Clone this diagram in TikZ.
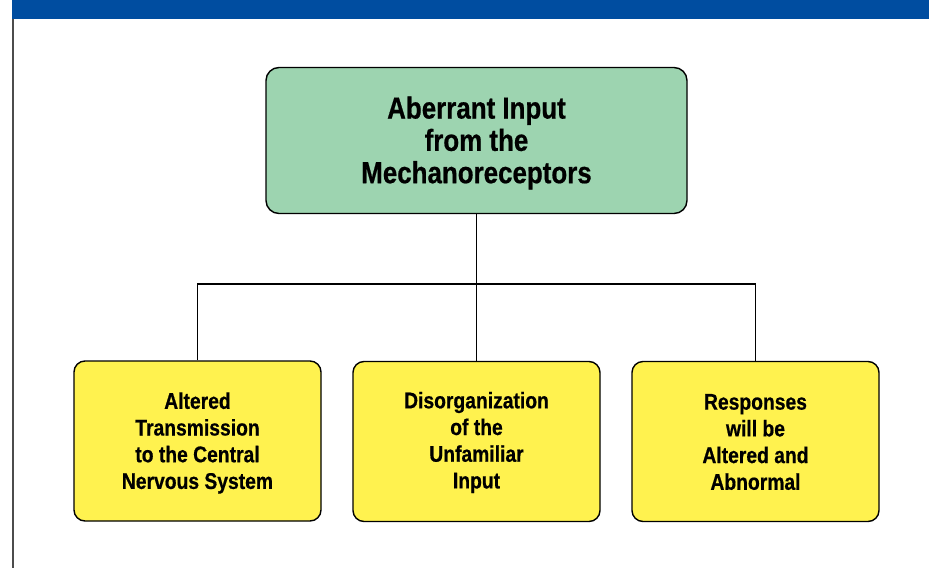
\documentclass[tikz,border=0pt]{standalone}
\usepackage{fontspec}
\setmainfont{Liberation Sans}[FakeStretch=0.85,BoldFeatures={FakeBold=0.6}]
\begin{document}
\begin{tikzpicture}[x=1pt,y=-1pt,
  topbox/.style={draw=black,line width=1.4pt,fill=topgreen,rounded corners=13pt,
    minimum width=421pt,minimum height=146pt,inner sep=0pt},
  subbox/.style={draw=black,line width=1.4pt,fill=subyellow,rounded corners=11pt,
    minimum width=247pt,minimum height=160pt,inner sep=0pt},
  toptext/.style={align=center,inner sep=0pt,
    font=\fontsize{30.5}{32.3}\selectfont\bfseries},
  subtext/.style={align=center,inner sep=0pt,
    font=\fontsize{22.7}{26.7}\selectfont\bfseries},
  link/.style={draw=black,line width=1.4pt}]
\definecolor{topgreen}{HTML}{9DD4B0}
\definecolor{subyellow}{HTML}{FFF24F}
\definecolor{barblue}{HTML}{004DA0}
\useasboundingbox (0,0) rectangle (929,568);
\fill[barblue] (12,0) rectangle (929,19);
\draw[line width=1.6pt,draw=black!70] (12.8,19) -- (12.8,568);
\node[topbox] (top) at (476.5,140.5) {};
\node[toptext] (toptxt) at ([yshift=-2.5pt]top.center) {Aberrant Input\\from the\\Mechanoreceptors};
\node[subbox] (l) at (197.5,441) {};
\node[subbox] (m) at (476.5,441.5) {};
\node[subbox] (r) at (755.5,441.5) {};
\node[subtext] (ltxt) at ([yshift=-2pt]l.center) {Altered\\Transmission\\to the Central\\Nervous System};
\node[subtext] (mtxt) at ([yshift=-1pt]m.center) {Disorganization\\of the\\Unfamiliar\\Input};
\node[subtext] (rtxt) at ([yshift=-0.5pt]r.center) {Responses\\will be\\Altered and\\Abnormal};
\coordinate (hub) at (476.5,284);
\draw[link] (top.south) -- (hub);
\draw[link] (l.north) |- (hub) -| (r.north);
\draw[link] (hub) -- (m.north);
\end{tikzpicture}
\end{document}
